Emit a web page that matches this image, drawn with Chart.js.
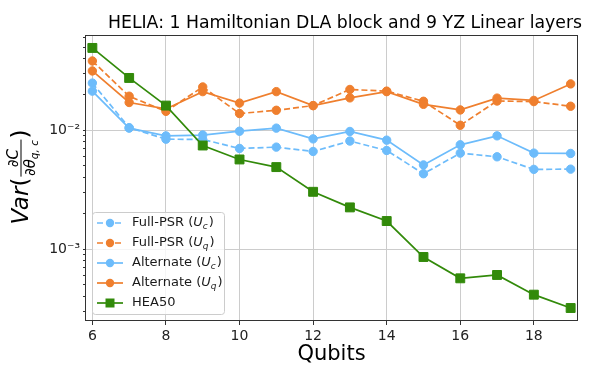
<!DOCTYPE html>
<html>
<head>
<meta charset="utf-8">
<script src="https://cdn.jsdelivr.net/npm/chart.js@4"></script>
<style>
  html, body { margin: 0; padding: 0; background: #fff; }
</style>
</head>
<body>
<canvas id="chart" width="613" height="379"></canvas>
<script>
// values
const qubits = [6, 7, 8, 9, 10, 11, 12, 13, 14, 15, 16, 17, 18, 19];
const fullPsrUc = [0.0249, 0.0105, 0.0084, 0.00835, 0.00702, 0.0072, 0.00662, 0.0081, 0.00675, 0.0043, 0.00641, 0.00597, 0.00468, 0.0047];
const fullPsrUq = [0.0382, 0.0193, 0.0144, 0.0231, 0.0138, 0.0147, 0.0161, 0.022, 0.0213, 0.0175, 0.011, 0.0176, 0.0174, 0.0159];
const altUc = [0.0213, 0.0104, 0.00895, 0.0091, 0.0098, 0.0104, 0.00845, 0.00975, 0.00824, 0.0051, 0.00753, 0.00896, 0.00641, 0.00637];
const altUq = [0.0315, 0.0171, 0.0151, 0.0211, 0.0169, 0.0211, 0.0161, 0.0187, 0.0211, 0.0165, 0.0148, 0.0186, 0.0178, 0.0245];
const hea50 = [0.0492, 0.0275, 0.0161, 0.00743, 0.00567, 0.00489, 0.00303, 0.00224, 0.00172, 0.000857, 0.000567, 0.000605, 0.000413, 0.000319];

const xTicks = [6, 8, 10, 12, 14, 16, 18];
const yMajorTicks = [1e-3, 1e-2];
const yTickLabels = ['10\u207B\u00B3', '10\u207B\u00B2'];

const titleText = 'HELIA: 1 Hamiltonian DLA block and 9 YZ Linear layers';
const xTitle = 'Qubits';

const BLUE = '#6dbcfb', ORANGE = '#ef7f2e', GREEN = '#328a0a';
const FONT = "'DejaVu Sans'";

// legend rows: [name, subscript, color, dashed, marker]
const legendRows = [
  ['Full-PSR', 'c', BLUE, true, 'circle'],
  ['Full-PSR', 'q', ORANGE, true, 'circle'],
  ['Alternate', 'c', BLUE, false, 'circle'],
  ['Alternate', 'q', ORANGE, false, 'circle'],
  ['HEA50', null, GREEN, false, 'rect']
];

function pts(arr) {
  return qubits.map((q, i) => ({ x: q, y: arr[i] }));
}

function series(label, arr, color, dashed, style, order) {
  return {
    label: label,
    data: pts(arr),
    borderColor: color,
    backgroundColor: color,
    borderWidth: 1.7,
    borderDash: dashed ? [6, 3] : [],
    pointStyle: style,
    pointRadius: style === 'rect' ? 6.3 : 4.2,
    pointBorderWidth: 1,
    pointBorderColor: color,
    pointBackgroundColor: color,
    tension: 0,
    order: order
  };
}

// mathtext-ish y label: Var( dC / dtheta_{q,c} )
function drawYLabel(ctx) {
  ctx.save();
  ctx.translate(28, 177);
  ctx.rotate(-Math.PI / 2);
  ctx.fillStyle = '#000';
  ctx.textBaseline = 'alphabetic';
  const big = '23px ' + FONT, bigI = 'italic 23px ' + FONT;
  const sm = '15px ' + FONT, smI = 'italic 15px ' + FONT, sub = 'italic 10.5px ' + FONT;
  const w = (f, t) => { ctx.font = f; return ctx.measureText(t).width; };
  const wVar = w(bigI, 'Var'), wL = w(big, '('), wR = w(big, ')');
  const wNum = w(sm, '\u2202') + w(smI, 'C');
  const wDen = w(sm, '\u2202') + w(smI, '\u03B8') + w(sub, 'q, c');
  const wFrac = Math.max(wNum, wDen) + 3;
  const total = wVar + wL + wFrac + wR;
  let x = -total / 2;
  ctx.font = bigI; ctx.fillText('Var', x, 0); x += wVar;
  ctx.font = big; ctx.fillText('(', x, 0); x += wL;
  const barY = -7;
  ctx.fillRect(x + 1, barY - 0.5, wFrac - 2, 1);
  let nx = x + (wFrac - wNum) / 2;
  ctx.font = sm; ctx.fillText('\u2202', nx, barY - 3); nx += w(sm, '\u2202');
  ctx.font = smI; ctx.fillText('C', nx, barY - 3);
  let dx = x + (wFrac - wDen) / 2;
  const denY = barY + 14;
  ctx.font = sm; ctx.fillText('\u2202', dx, denY); dx += w(sm, '\u2202');
  ctx.font = smI; ctx.fillText('\u03B8', dx, denY); dx += w(smI, '\u03B8');
  ctx.font = sub; ctx.fillText('q, c', dx, denY + 3);
  x += wFrac;
  ctx.font = big; ctx.fillText(')', x, 0);
  ctx.restore();
}

function drawMarker(ctx, style, x, y, color) {
  ctx.fillStyle = color;
  ctx.beginPath();
  if (style === 'rect') {
    ctx.rect(x - 4.5, y - 4.5, 9, 9);
  } else {
    ctx.arc(x, y, 4.2, 0, Math.PI * 2);
  }
  ctx.fill();
}

function drawLegend(ctx) {
  const bx = 92.5, by = 212.5, bw = 132, bh = 102, r = 3;
  ctx.save();
  ctx.beginPath();
  ctx.moveTo(bx + r, by);
  ctx.arcTo(bx + bw, by, bx + bw, by + bh, r);
  ctx.arcTo(bx + bw, by + bh, bx, by + bh, r);
  ctx.arcTo(bx, by + bh, bx, by, r);
  ctx.arcTo(bx, by, bx + bw, by, r);
  ctx.closePath();
  ctx.fillStyle = 'rgba(255,255,255,0.8)';
  ctx.fill();
  ctx.strokeStyle = '#cccccc';
  ctx.lineWidth = 1;
  ctx.stroke();

  ctx.textBaseline = 'middle';
  legendRows.forEach((row, i) => {
    const y = 223 + i * 20;
    const [name, subs, color, dashed, style] = row;
    ctx.strokeStyle = color;
    ctx.lineWidth = 1.7;
    ctx.setLineDash(dashed ? [6, 3] : []);
    ctx.beginPath();
    ctx.moveTo(97, y);
    ctx.lineTo(123, y);
    ctx.stroke();
    ctx.setLineDash([]);
    drawMarker(ctx, style, 110, y, color);

    ctx.fillStyle = '#1a1a1a';
    let x = 132;
    const base = '13px ' + FONT;
    if (subs) {
      ctx.font = base;
      ctx.fillText(name + ' (', x, y);
      x += ctx.measureText(name + ' (').width;
      ctx.font = 'italic 13px ' + FONT;
      ctx.fillText('U', x, y);
      x += ctx.measureText('U').width;
      ctx.font = 'italic 9px ' + FONT;
      ctx.fillText(subs, x, y + 4);
      x += ctx.measureText(subs).width + 1;
      ctx.font = base;
      ctx.fillText(')', x, y);
    } else {
      ctx.font = base;
      ctx.fillText(name, x, y);
    }
  });
  ctx.restore();
}

const decorations = {
  id: 'decorations',
  afterDraw(chart) {
    const ctx = chart.ctx;
    const a = chart.chartArea;
    ctx.save();
    // axes frame
    ctx.strokeStyle = '#333333';
    ctx.lineWidth = 1;
    ctx.strokeRect(Math.round(a.left) + 0.5, Math.round(a.top) + 0.5,
      Math.round(a.right - a.left) - 1, Math.round(a.bottom - a.top) - 1);
    // title
    ctx.fillStyle = '#000';
    ctx.textAlign = 'center';
    ctx.textBaseline = 'alphabetic';
    ctx.font = '17.3px ' + FONT;
    ctx.fillText(titleText, 345, 28);
    // x title
    ctx.font = '21px ' + FONT;
    ctx.textBaseline = 'middle';
    ctx.fillText(xTitle, (a.left + a.right) / 2, 355);
    ctx.restore();
    drawYLabel(ctx);
    drawLegend(ctx);
  }
};

function isMajor(v) {
  return yMajorTicks.some(m => Math.abs(v - m) / m < 1e-6);
}

new Chart(document.getElementById('chart'), {
  type: 'line',
  data: {
    datasets: [
      series('Full-PSR (Uc)', fullPsrUc, BLUE, true, 'circle', 4),
      series('Full-PSR (Uq)', fullPsrUq, ORANGE, true, 'circle', 3),
      series('Alternate (Uc)', altUc, BLUE, false, 'circle', 2),
      series('Alternate (Uq)', altUq, ORANGE, false, 'circle', 1),
      series('HEA50', hea50, GREEN, false, 'rect', 0)
    ]
  },
  options: {
    responsive: false,
    animation: false,
    events: [],
    layout: { padding: { top: 35, right: 35, left: 0, bottom: 0 } },
    plugins: {
      legend: { display: false },
      tooltip: { enabled: false },
      title: { display: false }
    },
    scales: {
      x: {
        type: 'linear',
        min: 5.8,
        max: 19.2,
        afterBuildTicks: s => { s.ticks = xTicks.map(v => ({ value: v })); },
        afterFit: s => { s.height = 58; },
        border: { display: false },
        grid: { color: '#cccccc', lineWidth: 1, tickColor: '#333', tickLength: 4 },
        ticks: {
          color: '#222',
          font: { size: 14, family: FONT },
          padding: 3,
          maxRotation: 0,
          callback: v => String(v)
        }
      },
      y: {
        type: 'logarithmic',
        min: 2.48e-4,
        max: 0.0632,
        afterBuildTicks: s => {
          const t = [];
          for (let e = -4; e <= -2; e++) {
            for (let m = 1; m <= 9; m++) {
              const v = m * Math.pow(10, e);
              if (v >= s.min && v <= s.max) t.push({ value: v });
            }
          }
          s.ticks = t;
        },
        afterFit: s => { s.width = 85; },
        border: { display: false },
        grid: {
          color: c => (c.tick && isMajor(c.tick.value)) ? '#cccccc' : 'rgba(0,0,0,0)',
          tickColor: '#333',
          tickLength: c => (c.tick && isMajor(c.tick.value)) ? 4 : 2,
          lineWidth: 1
        },
        ticks: {
          color: '#222',
          font: { size: 14, family: FONT },
          padding: 3,
          autoSkip: false,
          callback: v => {
            const i = yMajorTicks.findIndex(m => Math.abs(v - m) / m < 1e-6);
            return i >= 0 ? yTickLabels[i] : '';
          }
        }
      }
    }
  },
  plugins: [decorations]
});
</script>
</body>
</html>
